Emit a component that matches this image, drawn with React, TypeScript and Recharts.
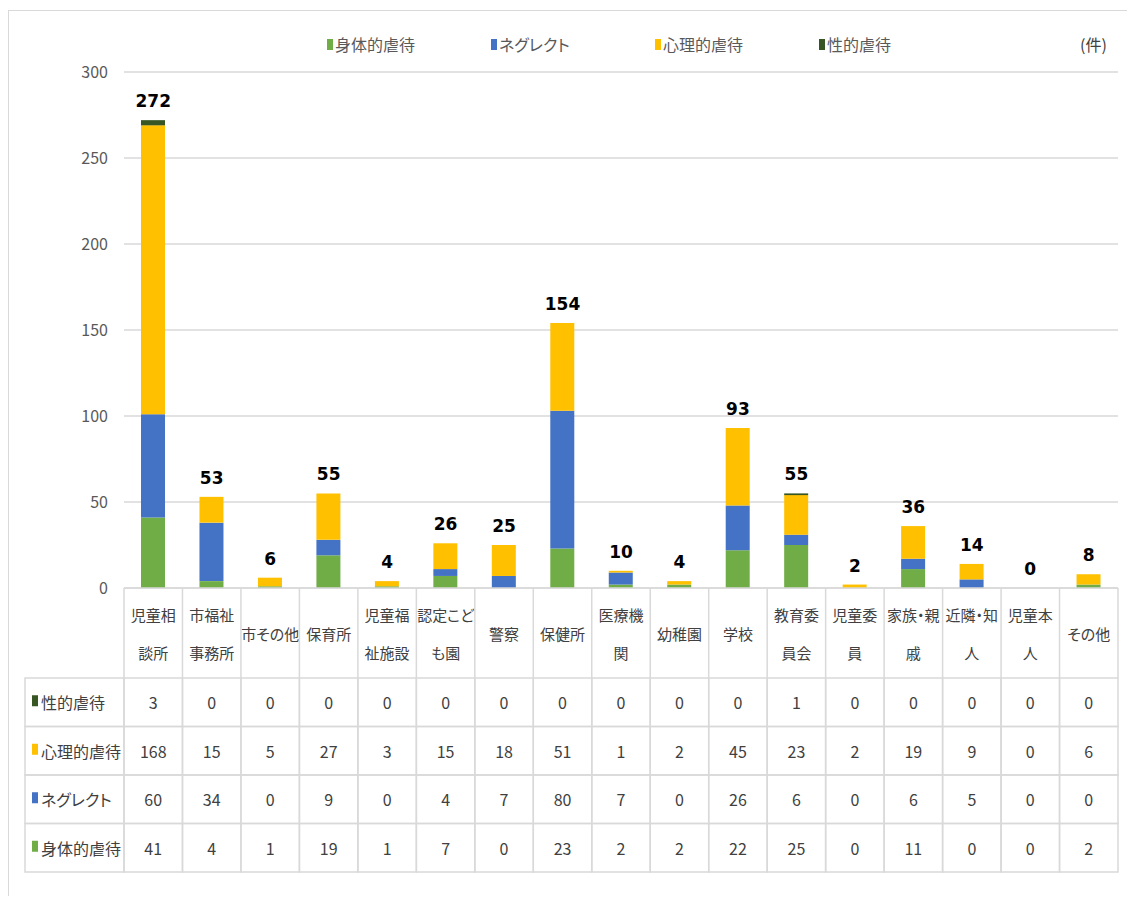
import React from 'react';
import { ComposedChart, Bar, Line, XAxis, YAxis, CartesianGrid, Legend, LabelList } from 'recharts';

const categories = ['児童相談所', '市福祉事務所', '市その他', '保育所', '児童福祉施設', '認定こども園', '警察', '保健所', '医療機関', '幼稚園', '学校', '教育委員会', '児童委員', '家族・親戚', '近隣・知人', '児童本人', 'その他'];
const physical = [41, 4, 1, 19, 1, 7, 0, 23, 2, 2, 22, 25, 0, 11, 0, 0, 2];
const neglect = [60, 34, 0, 9, 0, 4, 7, 80, 7, 0, 26, 6, 0, 6, 5, 0, 0];
const psychological = [168, 15, 5, 27, 3, 15, 18, 51, 1, 2, 45, 23, 2, 19, 9, 0, 6];
const sexual = [3, 0, 0, 0, 0, 0, 0, 0, 0, 0, 0, 1, 0, 0, 0, 0, 0];
const yTicks = [0, 50, 100, 150, 200, 250, 300];
const seriesNames = { physical: '身体的虐待', neglect: 'ネグレクト', psychological: '心理的虐待', sexual: '性的虐待' };
const unitLabel = '(件)';

const COLORS = { physical: '#70AD47', neglect: '#4472C4', psychological: '#FFC000', sexual: '#375623' };

const data = categories.map((name, i) => ({
  name,
  physical: physical[i],
  neglect: neglect[i],
  psychological: psychological[i],
  sexual: sexual[i],
  total: physical[i] + neglect[i] + psychological[i] + sexual[i],
}));

// legend order (stack order, bottom to top)
const legendItems = [
  { name: seriesNames.physical, color: COLORS.physical },
  { name: seriesNames.neglect, color: COLORS.neglect },
  { name: seriesNames.psychological, color: COLORS.psychological },
  { name: seriesNames.sexual, color: COLORS.sexual },
];

// table rows, top to bottom
const tableRows = [
  { name: seriesNames.sexual, color: COLORS.sexual, values: sexual },
  { name: seriesNames.psychological, color: COLORS.psychological, values: psychological },
  { name: seriesNames.neglect, color: COLORS.neglect, values: neglect },
  { name: seriesNames.physical, color: COLORS.physical, values: physical },
];

const W = 1127;
const H = 888;
const MARGIN = { top: 64, right: 17, left: 56, bottom: 24 };
const YAXIS_W = 60;
const PLOT_LEFT = MARGIN.left + YAXIS_W;
const PLOT_W = W - PLOT_LEFT - MARGIN.right;
const COL_W = PLOT_W / categories.length;
const CAT_H = 90;
const ROW_H = 48.5;
const HEADER_W = 99;
const BORDER = '#D9D9D9';
const TEXT = '#404040';
const FONT = "'Noto Sans CJK JP', 'Noto Sans', sans-serif";

const charW = (c: string) => (c === '・' ? 0.5 : /[\u3040-\u30ff]/.test(c) ? 0.75 : 1);
function wrap(s: string): string[] {
  const lines: string[] = [];
  let cur = '';
  let w = 0;
  for (const c of s) {
    const cw = charW(c);
    if (cur && w + cw > 3.5) {
      lines.push(cur);
      cur = c;
      w = cw;
    } else {
      cur += c;
      w += cw;
    }
  }
  if (cur) lines.push(cur);
  return lines;
}

const CategoryTick = (props: any) => {
  const { x, y, payload, index } = props;
  const lines = wrap(String(payload.value));
  const left = x - COL_W / 2;
  const n = lines.length;
  const last = index === categories.length - 1;
  return (
    <g>
      <line x1={left} y1={y} x2={left} y2={y + CAT_H} stroke={BORDER} strokeWidth={1.5} />
      {last && <line x1={left + COL_W} y1={y} x2={left + COL_W} y2={y + CAT_H} stroke={BORDER} strokeWidth={1.5} />}
      {lines.map((l, k) => (
        <text
          key={k}
          x={x}
          y={y + 45 + (k - (n - 1) / 2) * 38}
          textAnchor="middle"
          dominantBaseline="central"
          fontSize={15}
          fill={TEXT}
          fontFamily={FONT}
          style={{ fontFeatureSettings: '"palt"' }}
        >
          {l}
        </text>
      ))}
    </g>
  );
};

const makeRowTick = (rowIdx: number) => (props: any) => {
  const { x, y, index } = props;
  const row = tableRows[rowIdx];
  const left = x - COL_W / 2;
  return (
    <g>
      <rect x={left} y={y} width={COL_W} height={ROW_H} fill="none" stroke={BORDER} strokeWidth={1.5} />
      <text x={x} y={y + ROW_H / 2} textAnchor="middle" dominantBaseline="central" fontSize={16} fill={TEXT} fontFamily={FONT}>
        {row.values[index]}
      </text>
      {index === 0 && (
        <g>
          <rect x={left - HEADER_W} y={y} width={HEADER_W} height={ROW_H} fill="none" stroke={BORDER} strokeWidth={1.5} />
          <rect x={left - HEADER_W + 7} y={y + ROW_H / 2 - 7} width={6} height={11} fill={row.color} />
          <text
            x={left - HEADER_W + 16}
            y={y + ROW_H / 2}
            dominantBaseline="central"
            fontSize={16}
            fill={TEXT}
            fontFamily={FONT}
            style={{ fontFeatureSettings: '"palt"' }}
          >
            {row.name}
          </text>
        </g>
      )}
    </g>
  );
};

const LegendContent = () => (
  <div style={{ position: 'relative', width: W, height: 0, fontFamily: FONT }}>
    <div style={{ position: 'absolute', left: 319, top: 0, display: 'flex' }}>
      {legendItems.map((p) => (
        <div key={p.name} style={{ width: 164, display: 'flex', alignItems: 'center', fontSize: 16, color: '#595959', fontFeatureSettings: '"palt"' }}>
          <span style={{ display: 'inline-block', width: 6, height: 11, background: p.color, marginRight: 2 }} />
          <span>{p.name}</span>
        </div>
      ))}
    </div>
    <div style={{ position: 'absolute', left: 1072, top: 0, fontSize: 16, color: '#404040' }}>{unitLabel}</div>
  </div>
);

export default function App() {
  return (
    <div style={{ position: 'relative', width: W, height: H, overflow: 'hidden', background: '#fff' }}>
      <div
        style={{
          position: 'absolute',
          left: 0,
          top: 2,
          width: W + 20,
          height: H + 20,
          border: `1.5px solid ${BORDER}`,
          boxSizing: 'border-box',
        }}
      />
      <ComposedChart width={W} height={H} data={data} margin={MARGIN} barSize={24}>
        <CartesianGrid horizontal vertical={false} stroke={BORDER} strokeWidth={1.5} />
        <YAxis
          width={YAXIS_W}
          domain={[0, 300]}
          ticks={yTicks}
          axisLine={false}
          tickLine={false}
          tickSize={0}
          tickMargin={16}
          tick={{ fontSize: 16, fill: '#595959', fontFamily: FONT }}
        />
        <XAxis
          dataKey="name"
          height={CAT_H}
          interval={0}
          axisLine={{ stroke: BORDER, strokeWidth: 1.5 }}
          tickLine={false}
          tickSize={0}
          tickMargin={0}
          tick={CategoryTick}
        />
        {tableRows.map((r, i) => (
          <XAxis
            key={r.name}
            xAxisId={`row${i}`}
            dataKey="name"
            height={ROW_H}
            interval={0}
            axisLine={false}
            tickLine={false}
            tickSize={0}
            tickMargin={0}
            tick={makeRowTick(i)}
          />
        ))}
        <Legend
          layout="vertical"
          align="center"
          verticalAlign="top"
          wrapperStyle={{ top: 24, left: 0, width: W, height: 0 }}
          content={LegendContent}
        />
        <Bar dataKey="physical" name={seriesNames.physical} stackId="a" fill={COLORS.physical} isAnimationActive={false} />
        <Bar dataKey="neglect" name={seriesNames.neglect} stackId="a" fill={COLORS.neglect} isAnimationActive={false} />
        <Bar dataKey="psychological" name={seriesNames.psychological} stackId="a" fill={COLORS.psychological} isAnimationActive={false} />
        <Bar dataKey="sexual" name={seriesNames.sexual} stackId="a" fill={COLORS.sexual} isAnimationActive={false} />
        <Line
          dataKey="total"
          name="合計"
          stroke="none"
          dot={false}
          activeDot={false}
          legendType="none"
          isAnimationActive={false}
        >
          <LabelList dataKey="total" position="top" offset={13} fill="#000" fontSize={17} fontWeight="bold" fontFamily="'DejaVu Sans', sans-serif" />
        </Line>
      </ComposedChart>
    </div>
  );
}
